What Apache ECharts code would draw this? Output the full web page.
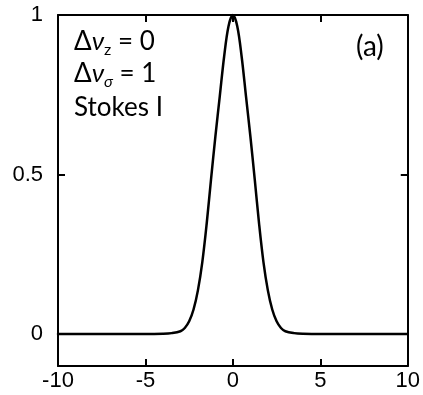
<!DOCTYPE html>
<html>
<head>
<meta charset="utf-8">
<script src="https://cdn.jsdelivr.net/npm/echarts@6/dist/echarts.min.js"></script>
<style>
  html, body { margin: 0; padding: 0; background: #ffffff; }
  #chart { width: 423px; height: 395px; }
</style>
</head>
<body>
<div id="chart"></div>
<script>
// Frequency offset (units of Doppler width) and normalised Stokes I profile
const detuning = [-10, -5, -4, -3.5, -3, -2.75, -2.5, -2.25, -2, -1.75, -1.5, -1.25, -1, -0.75, -0.5, -0.25, 0,
                  0.25, 0.5, 0.75, 1, 1.25, 1.5, 1.75, 2, 2.25, 2.5, 2.75, 3, 3.5, 4, 5, 10];
const stokesI = [0, 0, 0.001, 0.003, 0.009, 0.019, 0.040, 0.077, 0.137, 0.225, 0.345, 0.485, 0.62, 0.745, 0.87, 0.965, 1,
                 0.965, 0.87, 0.745, 0.62, 0.485, 0.345, 0.225, 0.137, 0.077, 0.040, 0.019, 0.009, 0.003, 0.001, 0, 0];

const xRange = [-10, 10];
const xStep = 5;
const yRange = [-0.1, 1];
const yTickValues = [0, 0.5, 1];

const labelFont = '"Liberation Sans", Arial, sans-serif';
const noteFont = 'Lato, "Open Sans", sans-serif';

const chart = echarts.init(document.getElementById('chart'), null, { renderer: 'canvas' });

const frameLine = { show: true, onZero: false, lineStyle: { color: '#000', width: 2 } };
const inwardTick = { show: true, inside: true, length: 7, lineStyle: { color: '#000', width: 2 } };

const noteRich = {
  d: { fontFamily: noteFont, fontSize: 26, color: '#000', lineHeight: 32 },
  nu: { fontFamily: noteFont, fontSize: 26, fontStyle: 'italic', color: '#000', lineHeight: 32 },
  sub: { fontFamily: noteFont, fontSize: 16, color: '#000', verticalAlign: 'bottom', lineHeight: 17 },
  subi: { fontFamily: noteFont, fontSize: 16, fontStyle: 'italic', color: '#000', verticalAlign: 'bottom', lineHeight: 17 }
};

chart.setOption({
  animation: false,
  backgroundColor: '#ffffff',
  grid: { left: 58, right: 14, top: 15, bottom: 29, containLabel: false },
  xAxis: [
    {
      type: 'value', min: xRange[0], max: xRange[1], interval: xStep, position: 'bottom',
      axisLine: frameLine, axisTick: inwardTick, splitLine: { show: false },
      axisLabel: { color: '#000', fontFamily: labelFont, fontSize: 22, margin: 4 }
    },
    {
      type: 'value', min: xRange[0], max: xRange[1], interval: xStep, position: 'top',
      axisLine: frameLine, axisTick: inwardTick, splitLine: { show: false },
      axisLabel: { show: false }
    }
  ],
  yAxis: [
    {
      type: 'value', min: yRange[0], max: yRange[1], position: 'left',
      axisLine: frameLine,
      axisTick: Object.assign({ customValues: yTickValues }, inwardTick),
      splitLine: { show: false },
      axisLabel: { customValues: yTickValues, color: '#000', fontFamily: labelFont, fontSize: 22, margin: 15 }
    },
    {
      type: 'value', min: yRange[0], max: yRange[1], position: 'right',
      axisLine: frameLine,
      axisTick: Object.assign({ customValues: yTickValues }, inwardTick),
      splitLine: { show: false },
      axisLabel: { show: false }
    }
  ],
  series: [
    {
      type: 'line',
      data: detuning.map((x, i) => [x, stokesI[i]]),
      smooth: 0.35,
      showSymbol: false,
      clip: false,
      lineStyle: { color: '#000', width: 2.5, join: 'round', cap: 'round' }
    }
  ],
  graphic: [
    {
      type: 'text', left: 74, top: 29,
      style: { text: '{d|Δ}{nu|ν}{sub|z}{d| = 0}', rich: noteRich }
    },
    {
      type: 'text', left: 74, top: 61,
      style: { text: '{d|Δ}{nu|ν}{subi|σ}{d| = 1}', rich: noteRich }
    },
    {
      type: 'text', left: 74, top: 95,
      style: { text: '{d|Stokes I}', rich: noteRich }
    },
    {
      type: 'text', left: 356, top: 33,
      style: { text: '(a)', fontFamily: noteFont, fontSize: 28, fill: '#000' }
    }
  ]
});
</script>
</body>
</html>
